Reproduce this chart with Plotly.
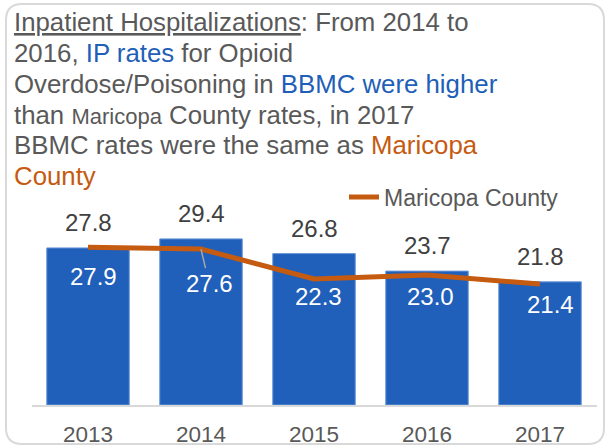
import plotly.graph_objects as go

years = ["2013", "2014", "2015", "2016", "2017"]
bbmc = [27.8, 29.4, 26.8, 23.7, 21.8]
maricopa = [27.9, 27.6, 22.3, 23.0, 21.4]

# label offsets (px) for white Maricopa value labels: (dx, dy)
mc_label_dx = [5, 8, 4, 3, 10]
mc_label_dy = [-29, -34, -17, -21, -20]

W, H = 610, 447
GREY = "#595959"
BLUE = "#1F5FB8"
ORANGE = "#C55A11"
FONT = "Liberation Sans, Arial, sans-serif"

def px(x):
    return x / W

def py(y):
    return 1 - y / H

fig = go.Figure()
fig.add_trace(go.Bar(
    x=years, y=bbmc, name="BBMC",
    marker=dict(color="#2060BA", line=dict(color="#6A98D8", width=1)),
    showlegend=False, hoverinfo="skip",
))
fig.add_trace(go.Scatter(
    x=years, y=maricopa, name="Maricopa County", mode="lines",
    line=dict(color=ORANGE, width=5),
))

# BBMC value labels above bars
for i, v in enumerate(bbmc):
    fig.add_annotation(x=i, y=v, text=f"{v:.1f}", showarrow=False,
                       yanchor="bottom", yshift=10,
                       font=dict(size=24, color="#404040", family=FONT))

# Maricopa labels (white)
for i, v in enumerate(maricopa):
    if i == 1:
        fig.add_annotation(x=i, y=v, text=f"{v:.1f}", showarrow=True,
                           ax=mc_label_dx[i], ay=-mc_label_dy[i],
                           arrowhead=0, arrowwidth=1.5, arrowcolor="#A6A6A6",
                           standoff=0,
                           font=dict(size=24, color="white", family=FONT))
    else:
        fig.add_annotation(x=i, y=v, text=f"{v:.1f}", showarrow=False,
                           xshift=mc_label_dx[i], yshift=mc_label_dy[i],
                           font=dict(size=24, color="white", family=FONT))

title_lines = [
    "<u>Inpatient Hospitalizations</u>: From 2014 to",
    f"2016, <span style='color:{BLUE}'>IP rates</span> for Opioid",
    f"Overdose/Poisoning in <span style='color:{BLUE}'>BBMC were higher</span>",
    "than <span style='font-size:22px'>Maricopa</span> County rates, in 2017",
    f"BBMC rates were the same as <span style='color:{ORANGE}'>Maricopa</span>",
    f"<span style='color:{ORANGE}'>County</span>",
]
title_y = [22, 53, 84, 115, 145, 176]
for t, yy in zip(title_lines, title_y):
    fig.add_annotation(xref="paper", yref="paper", x=px(12), y=py(yy),
                       xanchor="left", yanchor="middle", text=t, showarrow=False,
                       font=dict(size=25.8, color=GREY, family=FONT))

# rounded border
x0, y0, x1, y1, r = px(6), py(4), px(604), py(444), 16
rx, ry = r / W, r / H
path = (f"M {x0+rx},{y0} L {x1-rx},{y0} Q {x1},{y0} {x1},{y0-ry} "
        f"L {x1},{y1+ry} Q {x1},{y1} {x1-rx},{y1} L {x0+rx},{y1} "
        f"Q {x0},{y1} {x0},{y1+ry} L {x0},{y0-ry} Q {x0},{y0} {x0+rx},{y0} Z")
fig.add_shape(type="path", xref="paper", yref="paper", path=path,
              line=dict(color="#D9D9D9", width=2), layer="below")

fig.update_layout(
    width=W, height=H,
    margin=dict(l=0, r=0, t=0, b=0, pad=0, autoexpand=False),
    paper_bgcolor="white", plot_bgcolor="white",
    bargap=0.27,
    xaxis=dict(type="category", domain=[px(31.5), px(596.5)], range=[-0.5, 4.5],
               showgrid=False, showline=True, automargin=False,
               linecolor="#D9D9D9", linewidth=1.5, ticks="",
               ticklabelstandoff=8,
               tickfont=dict(size=22.5, color=GREY, family=FONT)),
    yaxis=dict(domain=[py(405), py(190)], range=[0, 215 / 5.65],
               visible=False, showgrid=False, automargin=False),
    legend=dict(orientation="h", x=px(344), y=py(197), xanchor="left",
                yanchor="middle", bgcolor="rgba(0,0,0,0)",
                font=dict(size=23, color=GREY, family=FONT)),
    font=dict(family=FONT),
)

fig.write_html("out.html",
               config={"displayModeBar": False},
               post_script="document.body.style.margin='0';document.body.style.overflow='hidden';")
